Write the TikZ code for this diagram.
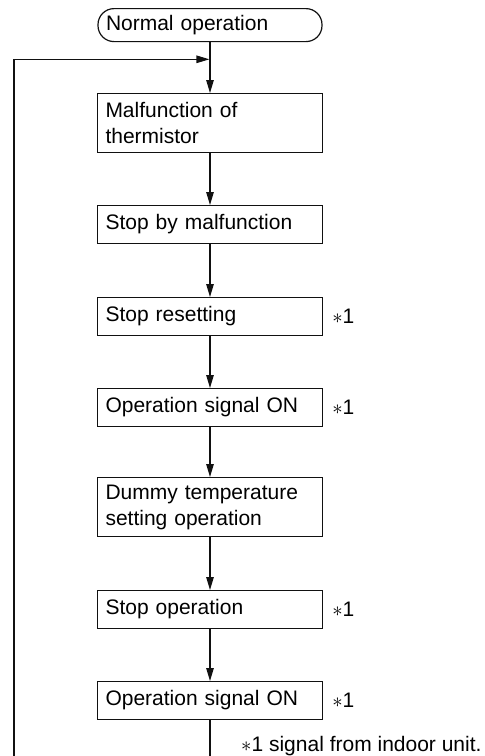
\documentclass[tikz,border=0pt]{standalone}
\usepackage{fontspec}
\setmainfont{Liberation Sans}
\usetikzlibrary{arrows.meta, positioning}
\definecolor{darkline}{HTML}{111111}
\tikzset{
  card/.style={rectangle, draw=darkline, line width=1.2pt, align=left, anchor=north,
               inner xsep=8pt, inner ysep=0pt, text width=209pt,
               font=\fontsize{21}{26}\selectfont},
  single/.style={card, minimum height=37.5pt},
  double/.style={card, minimum height=59pt},
  terminal/.style={card, rounded corners=16pt, text width=208pt, minimum height=33pt},
  signote/.style={font=\fontsize{21}{26}\selectfont, inner sep=0pt, anchor=west,
                  text height=15pt, text depth=0pt},
  flow/.style={-{Triangle[length=13pt, width=7.5pt]}, line width=1.2pt, draw=darkline},
  wire/.style={line width=1.2pt, draw=darkline},
}

\begin{document}
\begin{tikzpicture}[x=1pt, y=-1pt]
\useasboundingbox (0,0) rectangle (485,756);

% Steps
\node[terminal] (normal)    at (210,8)   {Normal operation};
\node[double]   (thermfail) at (210,93)  {Malfunction of\\thermistor};
\node[single]   (stopfail)  at (210,205) {Stop by malfunction};
\node[single]   (stopreset) at (210,297) {Stop resetting};
\node[single]   (opsig1)    at (210,388) {Operation signal ON};
\node[double]   (dummy)     at (210,477) {Dummy temperature\\setting operation};
\node[single]   (stopop)    at (210,590) {Stop operation};
\node[single]   (opsig2)    at (210,681) {Operation signal ON};

% Signal marks
\foreach \n in {stopreset, opsig1, stopop, opsig2} {
  \node[signote, right=9pt of \n.east] (\n-mark) {$\ast$1};
}
\node[font=\fontsize{21}{26}\selectfont, inner sep=0pt, anchor=base west]
  (footnote) at (241,751.5) {$\ast$1 signal from indoor unit.};

% Loop back
\coordinate (loopin)   at (210,59.3);
\coordinate (loopleft) at (14,59.3);
\coordinate (loopbot)  at (14,756);
\coordinate (outbot)   at (210,756);

% Flow
\draw[flow] (normal) -- (thermfail);
\draw[flow] (thermfail) -- (stopfail);
\draw[flow] (stopfail) -- (stopreset);
\draw[flow] (stopreset) -- (opsig1);
\draw[flow] (opsig1) -- (dummy);
\draw[flow] (dummy) -- (stopop);
\draw[flow] (stopop) -- (opsig2);
\draw[wire] (opsig2) -- (outbot);
\draw[flow, shorten >=0.6pt] (loopbot) -- (loopleft) -- (loopin);

\end{tikzpicture}
\end{document}
